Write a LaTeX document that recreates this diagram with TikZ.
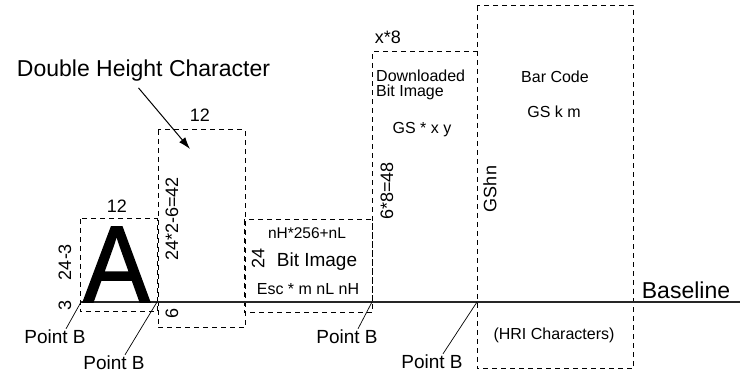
\documentclass[tikz,border=0pt]{standalone}
\usepackage{fontspec}
\setmainfont{Liberation Sans}
\newfontfamily\heavyfont{Liberation Sans}[FakeBold=1.5]
\usetikzlibrary{arrows.meta}

\newcommand{\fsz}[1]{\fontsize{#1}{#1}\selectfont}

\begin{document}
\begin{tikzpicture}[x=1pt, y=-1pt, font=\fsz{16},
      box/.style={draw, dash pattern=on 5pt off 4pt, line width=1pt},
      dim/.style={font=\fsz{18}, inner sep=1pt},
      vdim/.style={dim, rotate=90},
      ptb/.style={font=\fsz{19}, inner sep=1pt},
      lead/.style={line width=0.7pt},
      >={Latex[length=12pt, width=8pt]}]
    \useasboundingbox (0,0) rectangle (740,374);
    % dashed outlines
    \draw[box] (80,219) rectangle (157,312);
    \draw[box] (158,130) rectangle (245,328);
    \draw[box] (244,220) rectangle (372,313);
    \draw[box] (372,302) -- (372,52) -- (477,52);
    \draw[box] (477,6) rectangle (633,369);
    % baseline
    \coordinate (p1) at (81,302);
    \coordinate (p2) at (157,302);
    \coordinate (p3) at (372,302);
    \coordinate (p4) at (477,302);
    \coordinate (bend) at (740,302);
    \draw[line width=1.2pt, black!85] (p1) -- (bend);
    \node[font=\fsz{23}, inner sep=0pt] (bl) at (686,290) {Baseline};
    % the big character
    \node[font=\heavyfont\fsz{109}, inner sep=0pt, anchor=base, xscale=0.92] (bigA) at (116.5,302) {A};
    \node[dim] (wA) at (117,206) {12};
    \node[vdim] (hA) at (65,262) {24-3};
    \node[vdim] (dA) at (65,305) {3};
    % double height
    \node[dim] (wD) at (200,115) {12};
    \node[vdim] (hD) at (172,219) {24*2-6=42};
    \node[vdim] (dD) at (172,313) {6};
    \node[font=\fsz{23}, inner sep=0pt] (dhc) at (143.5,71) {Double Height Character};
    \coordinate (dhtip) at (190,149);
    \draw[->, line width=1pt] ([xshift=-5pt, yshift=-6pt]dhc.south) -- (dhtip);
    % bit image
    \node[font=\fsz{15.5}] (nhnl) at (307,233) {nH*256+nL};
    \node[font=\fsz{19}] (bit) at (317,262) {Bit Image};
    \node[font=\fsz{16}] (esc) at (308,289) {Esc * m nL nH};
    \node[vdim] (hB) at (258,258) {24};
    % downloaded bit image
    \node[dim] (wX) at (388,37) {x*8};
    \node[anchor=west, align=left, inner sep=0pt] (dl) at (376,85) {Downloaded\\[-1.5pt]Bit Image};
    \node (gsx) at (422,130) {GS * x y};
    \node[vdim] (hX) at (387,191) {6*8=48};
    % bar code
    \node[vdim] (gshn) at (490,189) {GShn};
    \node (bc) at (555,77) {Bar Code};
    \node (gsk) at (554,112) {GS k m};
    \node (hri) at (554,335) {(HRI Characters)};
    % point B labels
    \node[ptb] (b1) at (55,337) {Point B};
    \node[ptb] (b2) at (114,363) {Point B};
    \node[ptb] (b3) at (347,337) {Point B};
    \node[ptb] (b4) at (432,362) {Point B};
    \draw[lead] (p1) -- ([xshift=11pt]b1.north);
    \draw[lead] (p2) -- ([xshift=11pt]b2.north);
    \draw[lead] (p3) -- ([xshift=11pt]b3.north);
    \draw[lead] (p4) -- ([xshift=11pt]b4.north);
\end{tikzpicture}
\end{document}
